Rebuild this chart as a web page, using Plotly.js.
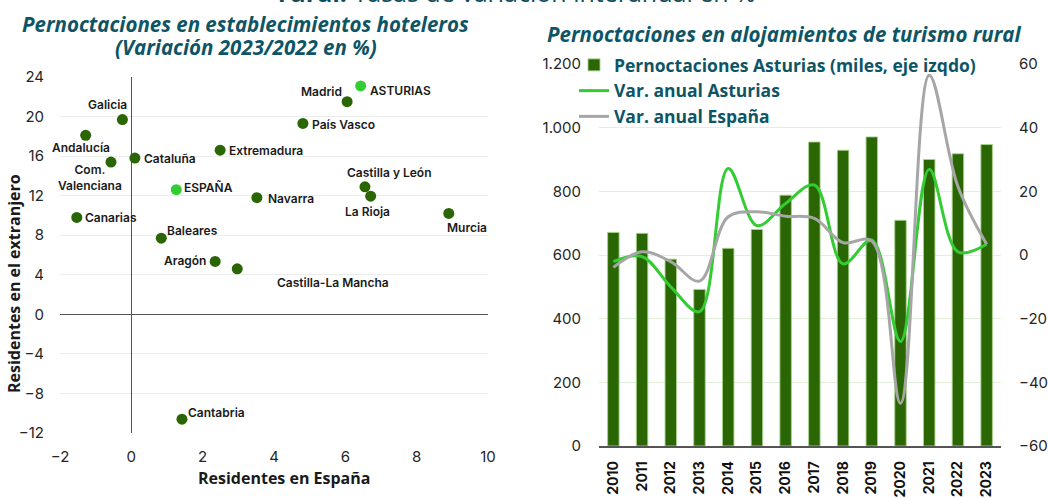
<!DOCTYPE html>
<html>
<head>
<meta charset="utf-8">
<script src="https://cdn.plot.ly/plotly-3.0.1.min.js"></script>
<style>html,body{margin:0;padding:0;background:#fff;}#chart{width:1048px;height:498px;}</style>
</head>
<body>
<div id="chart"></div>
<script>
// ---- Data: scatter (left) ----
const regiones = ['Galicia','Andalucía','Com.<br>Valenciana','Cataluña','Extremadura','ESPAÑA','Navarra','Canarias','Baleares','Aragón','Castilla-La Mancha','Cantabria','Madrid','ASTURIAS','País Vasco','Castilla y León','La Rioja','Murcia'];
const residentesEspana = [-0.25,-1.28,-0.57,0.10,2.49,1.26,3.52,-1.53,0.84,2.35,2.97,1.42,6.05,6.43,4.81,6.55,6.71,8.9];
const residentesExtranjero = [19.7,18.1,15.4,15.8,16.6,12.6,11.8,9.8,7.7,5.35,4.6,-10.6,21.5,23.1,19.3,12.9,11.95,10.2];

// ---- Data: bars + lines (right) ----
const years = ['2010','2011','2012','2013','2014','2015','2016','2017','2018','2019','2020','2021','2022','2023'];
const pernoctAsturias = [671,668,587,492,621,680,788,955,929,971,709,900,918,947];
const varAsturias = [-2.1,-0.5,-10,-17.8,27.2,9.2,16.2,22,-2.8,4.7,-27.2,26.9,1.0,3.4];
const varEspana = [-3.9,1.0,-2.1,-8.2,12,13.6,12.2,11.5,3.9,4.4,-46.6,56.5,21.5,3.4];

// ---- Styles ----
const DARK = '#2a6604', BRIGHT = '#33cc33', GREY = '#a6a6a6', TEAL = '#0d5566';
const highlight = ['ESPAÑA','ASTURIAS'];
const labelPos = {
  'Galicia':['center',-15,15], 'Andalucía':['center',-5,-12], 'Com.<br>Valenciana':['center',-21,-15],
  'Cataluña':['left',7,0], 'Extremadura':['left',7,0], 'ESPAÑA':['left',6,2], 'Navarra':['left',9,-1],
  'Canarias':['left',6,0], 'Baleares':['left',4,8], 'Aragón':['right',-7,1], 'Castilla-La Mancha':['left',38,-14],
  'Cantabria':['left',4,7], 'Madrid':['right',-3,10], 'ASTURIAS':['left',7,-5], 'País Vasco':['left',7,-1],
  'Castilla y León':['center',25,14], 'La Rioja':['center',-3,-15], 'Murcia':['center',18,-14]
};
const tickFont = {family:'Inter, sans-serif', size:15, color:'#262626'};
const TFONT = '"Open Sans", sans-serif';

const W = 1048, H = 498;
const px = v => v / W, py = v => 1 - v / H;

const traces = [
  {type:'scatter', mode:'markers', x:residentesEspana, y:residentesExtranjero, xaxis:'x', yaxis:'y',
   marker:{size:11, color:regiones.map(r => highlight.includes(r) ? BRIGHT : DARK)}, showlegend:false, hoverinfo:'skip'},
  {type:'bar', x:years, y:pernoctAsturias, xaxis:'x2', yaxis:'y2', name:'Pernoctaciones Asturias (miles, eje izqdo)',
   marker:{color:DARK, line:{color:'rgba(169,209,142,0.9)', width:1}}},
  {type:'scatter', mode:'lines', x:years, y:varAsturias, xaxis:'x2', yaxis:'y3', name:'Var. anual Asturias',
   line:{color:BRIGHT, width:3, shape:'spline', smoothing:1}},
  {type:'scatter', mode:'lines', x:years, y:varEspana, xaxis:'x2', yaxis:'y3', name:'Var. anual España',
   line:{color:GREY, width:3, shape:'spline', smoothing:1}}
];

const annotations = regiones.map((r, i) => ({
  x: residentesEspana[i], y: residentesExtranjero[i], xref:'x', yref:'y', text:r, showarrow:false,
  xanchor: labelPos[r][0], yanchor:'middle', xshift: labelPos[r][1], yshift: labelPos[r][2],
  font:{family:'Inter, sans-serif', size:12, color:'#1a1a1a', weight:600}
}));

const paperText = (x, y, text, font, extra) => Object.assign({x:px(x), y:py(y), xref:'paper', yref:'paper',
  xanchor:'center', yanchor:'middle', showarrow:false, text:text, font:font}, extra || {});
const titleFont = {family:TFONT, size:20.5, color:TEAL};
const axTitleFont = {family:TFONT, size:16, color:'#1a1a1a'};

annotations.push(
  paperText(517, 11, '<b>rural.</b> Tasas de variación interanual en %', {family:TFONT, size:25, color:'#0b4f5c'}, {yanchor:'bottom'}),
  paperText(245, 24, '<b><i>Pernoctaciones en establecimientos hoteleros</i></b>', titleFont),
  paperText(246, 47, '<b><i>(Variación 2023/2022 en %)</i></b>', titleFont),
  paperText(784, 34, '<b><i>Pernoctaciones en alojamientos de turismo rural</i></b>', titleFont),
  paperText(284, 478, '<b>Residentes en España</b>', axTitleFont),
  paperText(14, 284, '<b>Residentes en el extranjero</b>', axTitleFont, {textangle:-90})
);

const layout = {
  width:W, height:H, margin:{l:0,r:0,t:0,b:0}, paper_bgcolor:'#fff', plot_bgcolor:'#fff',
  separators:',.', bargap:0.6, showlegend:true,
  legend:{x:px(574), y:py(47), xanchor:'left', yanchor:'top', bgcolor:'rgba(0,0,0,0)',
          font:{family:TFONT, size:17.5, color:TEAL, weight:700}, itemwidth:30, tracegroupgap:0},
  xaxis:{domain:[px(60), px(488)], range:[-2,10], dtick:2, tick0:0, showgrid:false, zeroline:true,
         zerolinecolor:'#555', zerolinewidth:1.5, showline:false, ticks:'outside', ticklen:10,
         tickcolor:'rgba(0,0,0,0)', tickfont:tickFont, anchor:'y', automargin:false},
  yaxis:{domain:[py(433), py(77)], range:[-12,24], dtick:4, tick0:0, showgrid:true, gridcolor:'#ececec',
         zeroline:true, zerolinecolor:'#555', zerolinewidth:1.5, ticks:'outside', ticklen:12,
         tickcolor:'rgba(0,0,0,0)', tickfont:tickFont, anchor:'x', automargin:false},
  xaxis2:{domain:[px(599), px(1001)], anchor:'y2', type:'category', showgrid:false, tickangle:-90,
          ticks:'outside', ticklen:8, tickcolor:'rgba(0,0,0,0)', automargin:false,
          tickfont:{family:'Inter, sans-serif', size:14, color:'#111', weight:700},
          showline:true, linecolor:'#555', linewidth:1.5},
  yaxis2:{domain:[py(446), py(64)], anchor:'x2', range:[0,1200], dtick:200, separatethousands:true,
          showgrid:true, gridcolor:'#e2efda', zeroline:false, ticks:'outside', ticklen:14,
          tickcolor:'rgba(0,0,0,0)', tickfont:tickFont, automargin:false},
  yaxis3:{overlaying:'y2', side:'right', anchor:'x2', range:[-60,60], dtick:20, showgrid:false,
          zeroline:false, ticks:'outside', ticklen:14, tickcolor:'rgba(0,0,0,0)', tickfont:tickFont, automargin:false},
  annotations:annotations
};

Plotly.newPlot('chart', traces, layout, {displayModeBar:false, staticPlot:true});
</script>
</body>
</html>
